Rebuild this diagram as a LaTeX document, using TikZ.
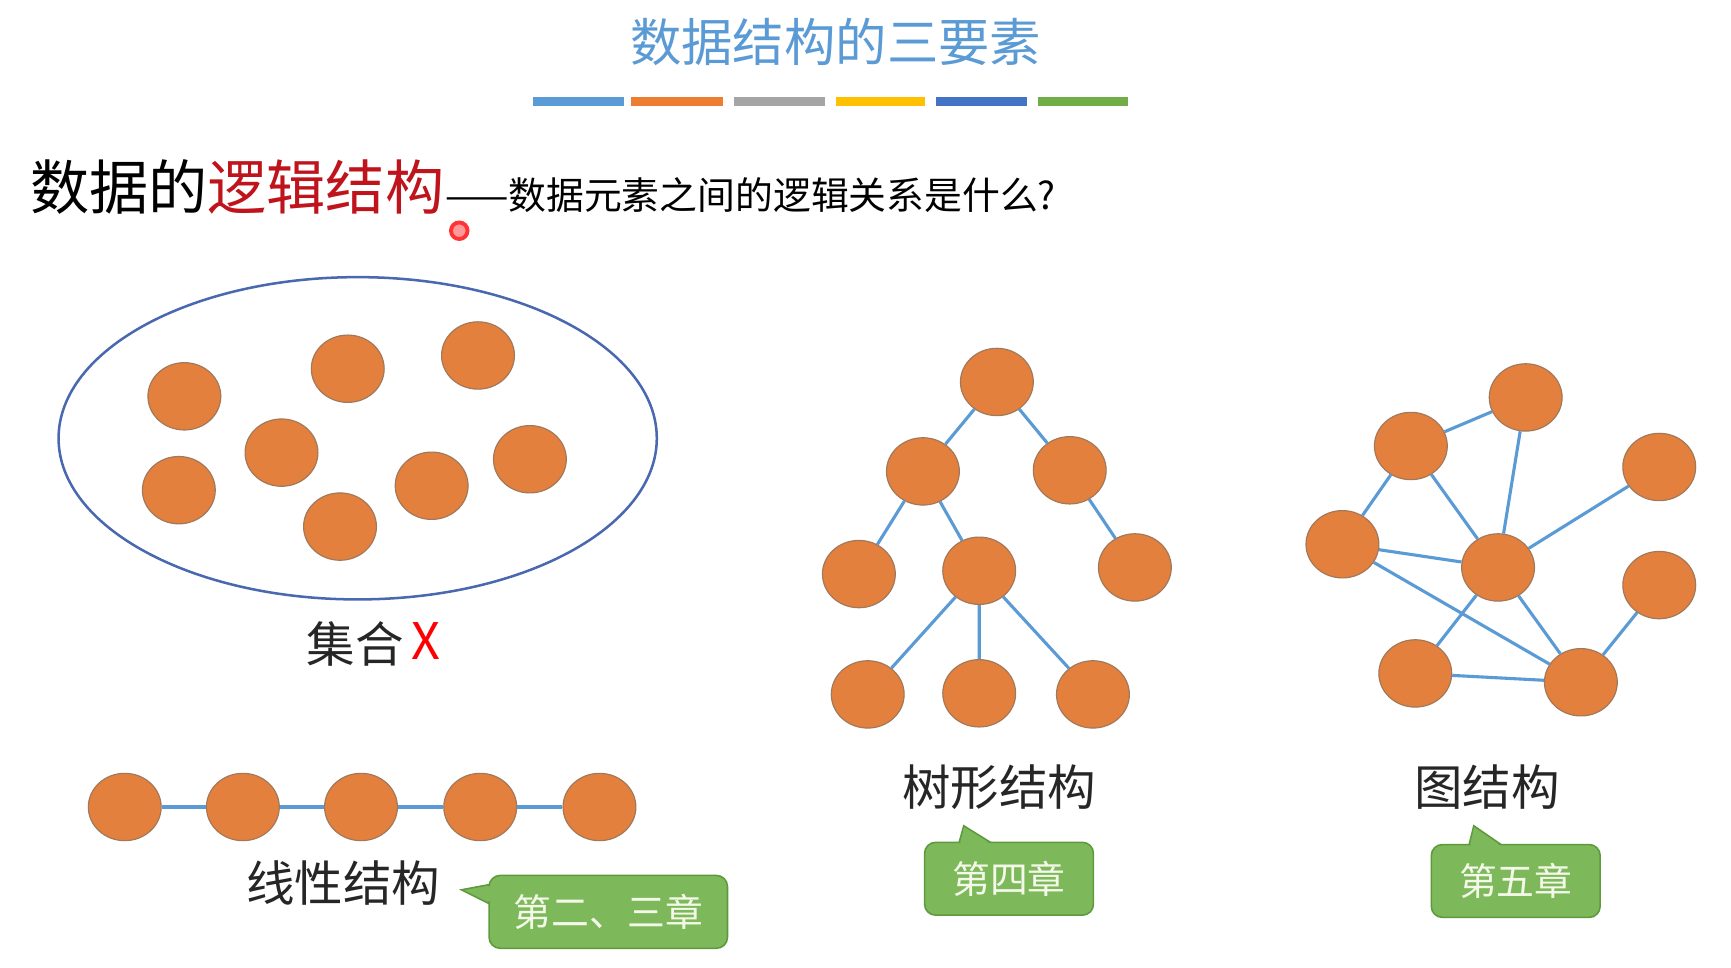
\documentclass[tikz,border=0pt]{standalone}
\usepackage{fontspec}
\setmainfont{Noto Sans CJK SC}
\newfontfamily\cjk{Noto Sans CJK SC}
\usetikzlibrary{shapes.geometric}
\definecolor{tblue}{HTML}{5B9BD5}
\definecolor{torange}{HTML}{ED7D31}
\definecolor{tgray}{HTML}{A5A5A5}
\definecolor{tyellow}{HTML}{FFC000}
\definecolor{tdblue}{HTML}{4472C4}
\definecolor{tgreen}{HTML}{70AD47}
\definecolor{nodefill}{HTML}{E3803E}
\definecolor{nodeline}{HTML}{A0785A}
\definecolor{cfill}{HTML}{7DB95B}
\definecolor{cline}{HTML}{5E9A3C}
\definecolor{ctext}{HTML}{F4F8E8}
\definecolor{hred}{HTML}{C0141C}
\definecolor{ering}{HTML}{4A68B0}
\tikzset{
  dot/.style={ellipse,fill=nodefill,draw=nodeline,line width=0.6pt,minimum width=1.32cm,minimum height=1.22cm,inner sep=0pt},
  link/.style={draw=tblue,line width=1.6pt},
  lbl/.style={font=\fontsize{25}{28}\selectfont,text=black!85,inner sep=0pt},
  callout/.style={rectangle,rounded corners=0.2cm,fill=cfill,draw=cline,line width=0.8pt,text=ctext,font=\fontsize{19.5}{22}\selectfont,inner sep=0pt},
  bar/.style={line width=0.16cm}
}
\begin{document}
\begin{tikzpicture}[x=0.02cm,y=-0.02cm]
\useasboundingbox[fill=white] (0,0) rectangle (1568,876);
% title
\node[text=tblue,font=\fontsize{26.5}{30}\selectfont] (title) at (757,38) {数据结构的三要素};
\draw[bar,tblue] (483,92) -- (565,92);
\draw[bar,torange] (572,92) -- (655,92);
\draw[bar,tgray] (665,92) -- (747,92);
\draw[bar,tyellow] (757,92) -- (838,92);
\draw[bar,tdblue] (848,92) -- (930,92);
\draw[bar,tgreen] (940,92) -- (1022,92);
% heading
\node[anchor=base west,inner sep=0pt,font=\fontsize{30.5}{34}\selectfont] (head) at (27,190) {数据的\textcolor{hred}{逻辑结构}};
\node[anchor=base west,inner sep=0pt,font=\fontsize{19.5}{22}\selectfont] (sub) at (head.base east) {——数据元素之间的逻辑关系是什么?};
\node[circle,draw=red!80,fill=red!40,line width=2pt,minimum size=0.3cm,inner sep=0pt] (laser) at (416,209) {};
% set
\node[ellipse,draw=ering,line width=1.3pt,minimum width=10.84cm,minimum height=5.84cm] (set) at (324,397) {};
\foreach \n/\x/\y in {s1/167/359,s2/315/334,s3/433/322,s4/255/410,s5/162/444,s6/308/477,s7/391/440,s8/480/416}
  \node[dot] (\n) at (\x,\y) {};
\node[lbl] (setlbl) at (322,583) {集合};
\node[text=red,font=\fontsize{26}{28}\selectfont] (xmark) at (386,581) {X};
% linear
\foreach \n/\x in {l1/113,l2/220,l3/327,l4/435,l5/543}
  \node[dot] (\n) at (\x,731) {};
\draw[link] (l1)--(l2) (l2)--(l3) (l3)--(l4) (l4)--(l5);
\node[lbl] (linlbl) at (311,800) {线性结构};
\coordinate (t1) at (418,806);
\fill[cfill,draw=cline,line width=0.8pt] (t1) -- (450,800) -- (450,822) -- cycle;
\node[callout,minimum width=4.32cm,minimum height=1.32cm] (c1) at (551,826) {第二、三章};
\fill[cfill] (421,806.5) -- (452,801.5) -- (452,820.5) -- cycle;
% tree
\foreach \n/\x/\y in {a/903/346,b/836/427,c/969/426,d/778/520,e/887/517,f/1028/514,g/786/629,h/887/628,i/990/629}
  \node[dot] (\n) at (\x,\y) {};
\draw[link] (a)--(b) (a)--(c) (b)--(d) (b)--(e) (c)--(f) (e)--(g) (e)--(h) (e)--(i);
\node[lbl] (treelbl) at (905,713) {树形结构};
\coordinate (t2) at (873,748);
\fill[cfill,draw=cline,line width=0.8pt] (t2) -- (868,766) -- (902,766) -- cycle;
\node[callout,minimum width=3.06cm,minimum height=1.32cm] (c2) at (914,796) {第四章};
\fill[cfill] (873,750.5) -- (869.5,766) -- (900,766) -- cycle;
% graph
\foreach \n/\x/\y in {p1/1278/404,p2/1382/360,p3/1503/423,p4/1216/493,p5/1357/514,p6/1503/530,p7/1282/610,p8/1432/618}
  \node[dot] (\n) at (\x,\y) {};
\draw[link] (p1)--(p2) (p1)--(p4) (p1)--(p5) (p2)--(p5) (p3)--(p5) (p4)--(p5) (p4)--(p8) (p5)--(p7) (p5)--(p8) (p6)--(p8) (p7)--(p8);
\node[lbl] (graphlbl) at (1347,713) {图结构};
\coordinate (t3) at (1335,748);
\fill[cfill,draw=cline,line width=0.8pt] (t3) -- (1330,768) -- (1364,768) -- cycle;
\node[callout,minimum width=3.06cm,minimum height=1.32cm] (c3) at (1373,798) {第五章};
\fill[cfill] (1335,750.5) -- (1331.5,768) -- (1362,768) -- cycle;
\end{tikzpicture}
\end{document}
